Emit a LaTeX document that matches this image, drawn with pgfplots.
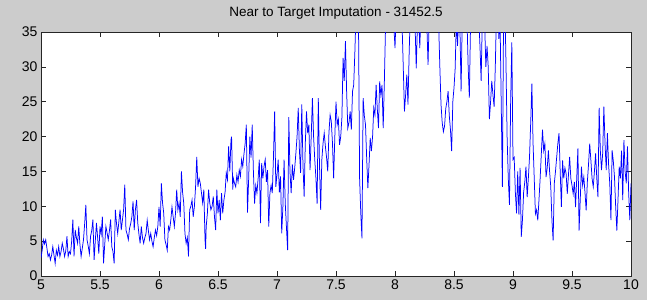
\documentclass[border=0pt]{standalone}
\usepackage{pgfplots}
\pgfplotsset{compat=1.18}
\usepackage{fontspec}
\setmainfont{Liberation Sans}
\definecolor{figbg}{RGB}{204,204,204}
\definecolor{lineblue}{RGB}{0,0,255}
\pgfplotstableread{
x y
5.00 2.6
5.01 3.7
5.02 5.2
5.03 4.6
5.04 5.2
5.05 4.0
5.06 2.8
5.07 3.2
5.08 2.3
5.09 3.0
5.10 4.2
5.11 3.0
5.12 1.8
5.13 3.7
5.14 3.0
5.15 4.2
5.16 2.8
5.17 3.5
5.18 4.7
5.19 3.9
5.20 2.8
5.21 3.6
5.22 5.7
5.23 2.8
5.24 3.5
5.25 3.2
5.26 5.0
5.27 8.1
5.28 2.8
5.29 6.6
5.30 5.5
5.31 4.7
5.32 7.1
5.33 4.5
5.34 2.8
5.35 4.0
5.36 5.2
5.37 7.5
5.38 10.2
5.39 5.2
5.40 4.3
5.41 3.2
5.42 5.7
5.43 6.5
5.44 8.1
5.45 2.3
5.46 5.0
5.47 7.6
5.48 5.5
5.49 3.2
5.50 7.1
5.51 6.0
5.52 8.5
5.53 1.8
5.54 4.5
5.55 7.1
5.56 6.2
5.57 5.2
5.58 6.5
5.59 8.1
5.60 4.2
5.61 3.5
5.62 1.8
5.63 9.5
5.64 7.5
5.65 6.1
5.66 7.8
5.67 9.5
5.68 6.6
5.69 8.0
5.70 9.5
5.71 13.1
5.72 6.6
5.73 6.0
5.74 5.2
5.75 6.8
5.76 7.5
5.77 8.5
5.78 10.7
5.79 6.6
5.80 9.5
5.81 10.9
5.82 7.6
5.83 6.0
5.84 4.7
5.85 7.1
5.86 5.5
5.87 4.7
5.88 5.5
5.89 6.1
5.90 8.0
5.91 6.5
5.92 5.2
5.93 6.1
5.94 5.0
5.95 4.2
5.96 5.5
5.97 6.6
5.98 5.8
5.99 7.1
6.00 9.9
6.01 7.1
6.02 13.3
6.03 10.5
6.04 9.0
6.05 5.2
6.06 4.5
6.07 3.7
6.08 7.1
6.09 6.6
6.10 8.0
6.11 9.9
6.12 8.5
6.13 7.1
6.14 9.0
6.15 12.4
6.16 9.5
6.17 10.5
6.18 8.5
6.19 15.0
6.20 12.0
6.21 10.4
6.22 6.1
6.23 4.7
6.24 5.5
6.25 2.8
6.26 9.5
6.27 10.0
6.28 10.9
6.29 8.5
6.30 10.0
6.31 12.8
6.32 17.1
6.33 12.8
6.34 14.0
6.35 13.3
6.36 11.9
6.37 10.5
6.38 12.4
6.39 5.2
6.395 3.9
6.40 7.1
6.41 9.0
6.42 12.4
6.43 10.5
6.44 9.5
6.45 10.0
6.46 11.4
6.47 8.5
6.48 6.6
6.49 12.4
6.50 9.0
6.51 10.9
6.52 8.0
6.53 11.9
6.54 9.0
6.55 10.9
6.56 12.0
6.57 14.8
6.58 13.8
6.59 18.6
6.60 15.0
6.61 19.5
6.615 20.0
6.625 12.4
6.63 14.0
6.64 13.3
6.65 12.8
6.66 14.5
6.67 13.5
6.68 15.2
6.69 14.3
6.70 16.7
6.71 15.7
6.72 17.5
6.73 19.0
6.74 21.7
6.75 9.1
6.76 14.0
6.77 20.0
6.78 17.0
6.79 21.7
6.80 15.0
6.81 10.4
6.82 13.0
6.83 11.9
6.84 14.0
6.85 16.7
6.86 7.6
6.87 16.2
6.88 14.0
6.89 15.7
6.90 16.7
6.91 13.5
6.92 15.2
6.93 7.1
6.94 11.9
6.95 13.0
6.96 11.9
6.97 17.0
6.98 23.6
6.99 12.8
7.00 14.5
7.01 16.7
7.02 12.0
7.03 14.3
7.04 6.1
7.05 10.0
7.06 16.7
7.07 10.4
7.08 7.0
7.09 3.7
7.10 22.8
7.11 15.0
7.12 11.9
7.13 16.0
7.14 13.8
7.15 15.5
7.16 17.6
7.17 20.0
7.18 24.1
7.19 18.0
7.20 14.8
7.21 24.6
7.22 16.0
7.23 11.4
7.24 19.1
7.25 23.6
7.26 20.5
7.27 21.7
7.28 15.2
7.29 20.0
7.30 25.5
7.31 20.0
7.32 16.7
7.33 14.0
7.34 10.4
7.35 25.5
7.36 16.0
7.37 9.5
7.38 16.7
7.39 19.0
7.40 20.5
7.41 18.6
7.42 17.0
7.43 15.0
7.44 20.5
7.45 23.1
7.46 22.2
7.47 19.1
7.48 14.0
7.49 20.0
7.50 25.0
7.51 21.7
7.52 22.5
7.53 18.8
7.54 20.0
7.55 22.7
7.56 31.3
7.57 28.0
7.58 33.7
7.59 26.5
7.60 21.2
7.61 22.0
7.62 23.6
7.63 21.0
7.64 26.5
7.65 27.4
7.66 32.2
7.67 38
7.68 40
7.69 38
7.70 14.0
7.71 9.0
7.72 5.4
7.73 25.5
7.74 23.0
7.75 21.7
7.76 16.9
7.77 12.6
7.78 16.0
7.79 19.8
7.80 17.9
7.81 20.0
7.82 24.1
7.83 23.1
7.84 27.4
7.85 24.0
7.86 21.2
7.87 27.9
7.88 26.0
7.89 27.4
7.90 21.2
7.91 28.0
7.92 36
7.93 40
7.94 38
7.95 42
7.96 37
7.97 40
7.98 38
7.99 36
8.00 32.7
8.01 38
8.02 40
8.03 37
8.04 41
8.05 38
8.06 36
8.07 30
8.08 23.6
8.09 26
8.10 28.9
8.11 24.6
8.12 32
8.13 38
8.14 40
8.15 37
8.16 39
8.17 36
8.18 29.8
8.19 36
8.20 38
8.21 32.7
8.22 38
8.23 40
8.24 37
8.25 39
8.26 38
8.27 36
8.28 30.3
8.29 37
8.30 40
8.31 38
8.32 41
8.33 38
8.34 40
8.35 37
8.36 39
8.37 36
8.38 30
8.39 24.6
8.40 22.0
8.41 20.7
8.42 21.5
8.43 24.0
8.44 25.0
8.45 26.5
8.46 23.0
8.47 21.0
8.48 17.9
8.49 25.0
8.50 27.0
8.51 29.8
8.52 37
8.53 33
8.54 38
8.55 36
8.56 26.5
8.57 37
8.58 40
8.59 38
8.60 41
8.61 37
8.62 30
8.63 25.6
8.64 36
8.65 40
8.66 38
8.67 41
8.68 37
8.69 39
8.70 40
8.71 37
8.72 33
8.73 28.0
8.74 37
8.75 39
8.76 36
8.77 30.0
8.78 33
8.79 30
8.80 22.5
8.81 25
8.82 28.0
8.83 26.0
8.84 24.3
8.85 30
8.86 38
8.87 40
8.88 34
8.89 37
8.90 25
8.91 12.8
8.92 37
8.93 40
8.94 31.0
8.95 20
8.96 14
8.97 10.2
8.98 25
8.99 33.5
9.00 16.7
9.01 17.0
9.02 12.0
9.03 9.0
9.04 15.0
9.05 8.8
9.06 15.5
9.07 5.6
9.08 8.0
9.09 12.0
9.10 13.5
9.11 15.7
9.12 11.3
9.13 14.0
9.14 17.1
9.15 22.0
9.16 27.6
9.17 19.0
9.18 14.0
9.19 8.9
9.20 9.5
9.21 8.0
9.22 10.9
9.23 14.0
9.24 17.5
9.25 21.0
9.26 18.0
9.27 19.0
9.28 14.2
9.29 15.5
9.30 18.0
9.31 15.0
9.32 12.8
9.33 8.0
9.34 5.1
9.35 13.3
9.36 15.0
9.37 17.0
9.38 19.0
9.39 20.5
9.40 15.0
9.41 9.9
9.42 16.6
9.43 14.0
9.44 15.5
9.45 14.7
9.46 11.8
9.47 14.5
9.48 17.1
9.49 14.0
9.50 13.0
9.51 11.8
9.52 13.5
9.53 9.9
9.54 14.0
9.55 18.3
9.56 6.5
9.57 11.0
9.58 15.7
9.59 13.0
9.60 14.2
9.61 12.0
9.62 9.4
9.63 13.5
9.64 16.0
9.65 19.0
9.66 16.6
9.67 14.0
9.68 12.8
9.69 15.0
9.70 17.6
9.71 14.0
9.72 11.3
9.73 24.1
9.74 18.0
9.75 15.2
9.76 17.6
9.77 24.3
9.78 19.0
9.79 15.2
9.80 20.5
9.81 16.0
9.82 13.3
9.83 8.0
9.84 18.0
9.85 16.5
9.86 14.2
9.87 10.0
9.88 6.5
9.89 11.0
9.90 15.7
9.91 14.0
9.92 18.0
9.93 10.9
9.94 19.5
9.95 15.0
9.96 13.3
9.97 18.6
9.98 12.0
9.99 8.0
10.00 13.3
}\datatable
\begin{document}
\begin{tikzpicture}[x=1pt,y=1pt]
\fill[figbg] (0,0) rectangle (647,300);
\begin{axis}[
  at={(41pt,24pt)}, anchor=south west,
  scale only axis, width=590pt, height=244pt,
  xmin=5, xmax=10, ymin=0, ymax=35,
  xtick={5,5.5,6,6.5,7,7.5,8,8.5,9,9.5,10},
  ytick={0,5,10,15,20,25,30,35},
  tick align=inside,
  major tick length=5pt,
  axis background/.style={fill=white},
  axis line style={black!85, line width=0.6pt},
  tick style={black!85, line width=0.5pt},
  ticklabel style={font=\fontsize{14}{16}\selectfont},
  /pgf/number format/assume math mode=true,
  title={Near to Target Imputation - 31452.5},
  title style={font=\fontsize{13.5}{15}\selectfont, at={(0.5,1)}, anchor=base, yshift=9.5pt},
]
\addplot[lineblue, line width=0.75pt] table[x=x,y=y] {\datatable};
\end{axis}
\end{tikzpicture}
\end{document}
